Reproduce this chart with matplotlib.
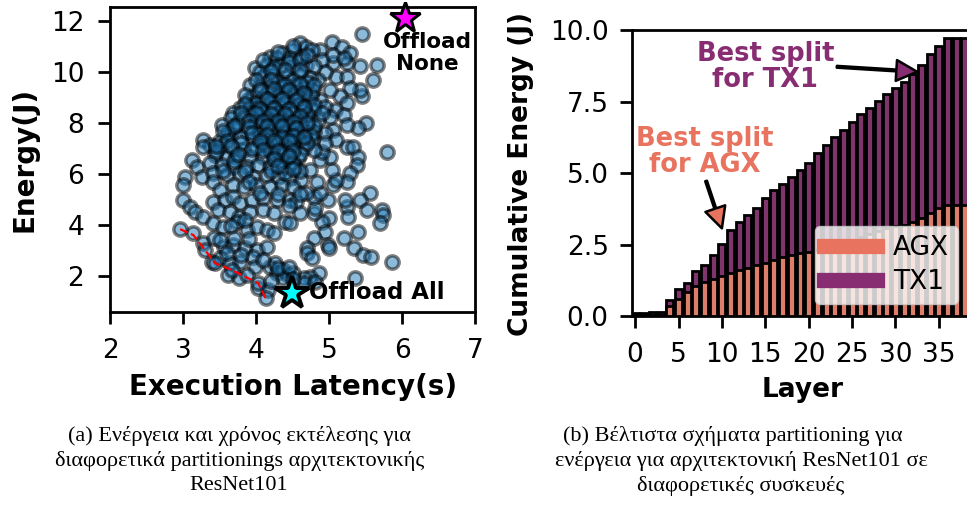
import matplotlib
matplotlib.use("Agg")
import matplotlib.pyplot as plt
from matplotlib.lines import Line2D
import numpy as np

# ---------------- data: (a) scatter of partitionings ----------------
outliers_right = [
    (5.45, 11.5), (5.65, 10.3), (5.42, 10.23), (5.60, 9.7), (5.45, 9.05), (5.42, 9.3), (5.50, 8.0), (5.40, 7.8),
    (5.79, 6.88), (5.56, 5.24), (5.42, 4.98), (5.52, 4.6), (5.72, 4.58), (5.74, 4.4), (5.70, 4.06), (5.40, 3.73),
    (5.20, 3.47), (5.34, 3.08), (5.47, 2.81), (5.58, 2.75), (5.86, 2.55), (5.36, 1.9), (5.24, 4.72), (5.22, 4.98),
    (5.26, 4.32), (4.99, 4.98), (5.00, 4.26), (4.90, 4.13), (4.95, 3.73), (4.99, 3.21), (5.00, 3.08), (4.79, 3.47),
    (4.70, 3.08), (4.70, 2.88), (4.77, 2.68), (4.86, 2.09), (4.74, 1.96), (4.65, 1.9), (4.79, 4.45), (4.81, 4.65),
    (4.79, 5.1), (4.88, 5.24), (5.06, 5.57),
]
upper_right = [
    (5.04, 11.2), (5.18, 11.0), (5.29, 10.75), (5.24, 10.36), (5.06, 10.36), (5.10, 9.83), (5.24, 9.83), (5.29, 9.37),
    (5.15, 9.05), (5.24, 8.78), (5.08, 8.52), (5.20, 8.33), (5.24, 7.93), (5.06, 7.73), (4.95, 7.6), (5.10, 7.34),
    (5.24, 7.08), (5.33, 7.08), (5.40, 6.68), (5.38, 6.36), (5.29, 6.03), (5.24, 5.7), (5.10, 5.77), (5.04, 6.16),
    (5.01, 6.68), (4.88, 6.55), (4.90, 6.88), (4.95, 7.21), (4.88, 10.88), (4.90, 10.5), (4.95, 10.03), (4.85, 9.7),
    (5.01, 9.3), (4.88, 8.9), (4.95, 8.65), (5.01, 8.26), (5.06, 10.7), (5.20, 10.55),
]
main_cluster = [
    (4.6, 11.15), (4.69, 11.0), (4.51, 10.88), (4.76, 10.88), (4.37, 10.75), (4.19, 10.62), (4.28, 10.55), (4.46, 10.55),
    (4.63, 10.62), (3.99, 10.16), (4.15, 10.3), (4.33, 10.23), (4.51, 10.23), (4.69, 10.3), (4.8, 10.23), (4.1, 9.83),
    (4.23, 9.9), (4.42, 9.83), (4.6, 9.9), (4.74, 9.77), (3.92, 9.5), (4.06, 9.44), (4.19, 9.44), (4.35, 9.5),
    (4.53, 9.5), (4.67, 9.37), (4.78, 9.3), (3.96, 9.05), (4.1, 8.98), (4.26, 9.05), (4.42, 8.98), (4.58, 9.05),
    (4.72, 8.92), (3.89, 8.92), (3.78, 8.59), (3.92, 8.59), (4.06, 8.65), (4.19, 8.59), (4.35, 8.65), (4.51, 8.59),
    (4.65, 8.52), (4.78, 8.52), (3.69, 8.39), (3.65, 8.2), (3.84, 8.2), (4.01, 8.26), (4.15, 8.2), (4.3, 8.26),
    (4.44, 8.2), (4.58, 8.13), (4.72, 8.13), (4.85, 8.13), (3.53, 7.93), (3.69, 7.8), (4.06, 7.87), (4.19, 7.8),
    (4.35, 7.8), (4.51, 7.73), (4.67, 7.67), (4.8, 7.67), (3.87, 7.67), (3.64, 7.54), (3.78, 7.47), (3.96, 7.41),
    (4.1, 7.47), (4.28, 7.41), (4.44, 7.47), (4.6, 7.34), (4.76, 7.34), (3.28, 7.34), (3.37, 7.15), (3.51, 7.08),
    (3.69, 7.01), (3.82, 6.95), (4.0, 7.01), (4.16, 7.01), (4.33, 7.01), (4.49, 7.08), (4.65, 7.01), (4.8, 6.95),
    (3.28, 7.08), (3.44, 6.75), (3.6, 6.68), (3.73, 6.68), (3.92, 6.68), (4.1, 6.68), (4.26, 6.68), (4.42, 6.62),
    (4.58, 6.62), (3.12, 6.55), (3.19, 6.29), (3.37, 6.42), (3.53, 6.36), (3.69, 6.29), (3.87, 6.29), (4.03, 6.36),
    (4.19, 6.29), (4.37, 6.29), (4.53, 6.29), (3.03, 5.9), (3.26, 5.9), (3.41, 6.03), (3.6, 5.96), (3.78, 6.03),
    (3.96, 5.9), (4.15, 5.96), (4.3, 5.9), (4.46, 5.83), (4.62, 5.77), (3.0, 5.57), (3.41, 5.67), (3.5, 5.37),
    (3.69, 5.57), (3.84, 5.5), (4.0, 5.57), (4.19, 5.5), (4.35, 5.57), (4.51, 5.5), (3.0, 4.98), (3.1, 4.72),
    (3.16, 4.52), (3.41, 4.91), (3.58, 4.98), (3.69, 5.11), (3.78, 4.85), (3.94, 4.98), (4.1, 5.04), (4.28, 4.98),
    (4.46, 4.98), (4.55, 4.91), (3.48, 4.58), (3.64, 4.52), (3.76, 4.32), (3.92, 4.52), (4.1, 4.58), (4.24, 4.45),
    (4.4, 4.13), (4.46, 4.06), (3.28, 4.32), (3.41, 4.06), (3.55, 3.93), (3.74, 4.13), (3.87, 3.8), (4.01, 3.93),
    (4.15, 3.8), (4.24, 3.67), (3.14, 3.67), (3.28, 3.27), (3.42, 3.47), (3.56, 3.14), (3.69, 3.21), (3.85, 3.08),
    (4.01, 3.01), (4.15, 3.14), (3.3, 3.01), (3.39, 2.55), (3.5, 2.68), (3.64, 2.49), (3.78, 2.55), (3.96, 2.75),
    (3.99, 2.36), (3.62, 2.03), (3.76, 1.9), (3.87, 2.03), (4.03, 1.5), (4.17, 1.43), (4.13, 1.12), (4.19, 2.36),
    (4.26, 2.49), (4.28, 2.09), (4.37, 2.22), (4.44, 2.03), (4.51, 2.09), (4.37, 1.9), (4.65, 1.7), (4.81, 1.76),
    (4.74, 6.16), (4.83, 5.7), (4.69, 5.24), (4.6, 4.45), (2.96, 3.83), (3.44, 2.49), (3.67, 2.22), (4.03, 1.7),
]
dense_core = [
    (4.05, 10.0), (4.25, 10.2), (4.45, 10.4), (4.6, 10.5), (4.3, 9.6), (4.5, 9.7), (4.7, 9.6), (4.15, 9.2),
    (4.35, 9.2), (4.55, 9.2), (4.75, 9.1), (4.0, 8.8), (4.2, 8.85), (4.4, 8.8), (4.6, 8.75), (4.8, 8.7),
    (3.95, 8.4), (4.1, 8.45), (4.3, 8.4), (4.5, 8.4), (4.7, 8.35), (4.9, 8.4), (4.0, 8.05), (4.25, 8.0),
    (4.4, 7.95), (4.6, 7.95), (4.8, 7.9), (4.05, 7.6), (4.2, 7.65), (4.4, 7.6), (4.55, 7.55), (4.75, 7.55),
    (4.1, 7.2), (4.3, 7.2), (4.5, 7.25), (4.7, 7.2), (4.2, 6.85), (4.4, 6.85), (4.6, 6.8), (4.35, 6.5),
    (4.5, 6.45), (4.2, 6.1), (4.4, 6.05), (4.6, 6.1), (3.75, 8.0), (3.6, 7.6), (3.8, 7.2), (3.95, 7.0),
    (3.5, 7.3), (3.45, 6.9), (3.7, 6.5), (3.85, 6.1), (3.55, 6.1), (3.9, 5.7), (4.05, 5.25), (4.3, 5.2),
    (4.6, 5.2), (4.45, 4.75), (3.85, 4.2), (3.65, 3.95), (3.9, 3.45), (3.7, 3.5), (3.5, 3.4), (3.6, 2.9),
    (3.8, 2.8), (4.1, 2.6), (4.3, 2.3), (4.45, 2.35), (4.5, 1.85), (4.2, 1.8),
]
dense_core_2 = [
    (4.1, 10.5), (4.3, 10.8), (4.5, 11.05), (4.7, 10.7), (4.4, 10.1), (4.2, 10.05), (4.6, 10.1), (4.0, 9.7),
    (4.2, 9.7), (4.4, 9.5), (4.6, 9.55), (4.8, 9.5), (4.05, 9.3), (4.25, 9.35), (4.45, 9.3), (4.65, 9.2),
    (3.85, 9.1), (4.15, 8.95), (4.35, 8.95), (4.55, 8.9), (3.85, 8.75), (4.05, 8.55), (4.25, 8.6), (4.45, 8.55),
    (4.65, 8.65), (3.8, 8.4), (4.0, 8.4), (4.2, 8.35), (4.4, 8.35), (4.6, 8.3), (3.9, 8.1), (4.1, 8.1),
    (4.3, 8.1), (4.5, 8.05), (4.7, 8.0), (3.9, 7.85), (4.15, 7.9), (4.35, 7.9), (4.55, 7.8), (3.95, 7.6),
    (4.15, 7.55), (4.35, 7.45), (4.5, 7.5), (4.65, 7.45), (4.05, 7.3), (4.25, 7.3), (4.45, 7.3), (4.1, 6.95),
    (4.3, 6.9), (4.5, 6.9), (4.25, 6.6), (4.45, 6.7), (4.3, 6.3), (4.5, 6.2), (3.7, 7.9), (3.55, 7.7),
    (3.6, 7.3), (3.45, 7.1), (3.65, 7.1), (3.75, 6.8),
]
pareto_latency = [2.96, 3.14, 3.30, 3.44, 3.67, 4.03, 4.13]
pareto_energy = [3.83, 3.60, 3.01, 2.49, 2.22, 1.70, 1.12]
offload_none = (6.04, 12.13)
offload_all = (4.49, 1.30)

# ---------------- data: (b) cumulative energy per layer ----------------
layers = list(range(39))
energy_tx1 = [0.12, 0.13, 0.14, 0.15, 0.58, 0.97, 1.16, 1.57, 1.80, 2.15, 2.53, 3.02, 3.28, 3.52, 3.79, 4.14,
              4.40, 4.62, 4.87, 5.10, 5.37, 5.69, 5.98, 6.25, 6.50, 6.77, 7.05, 7.26, 7.52, 7.75, 7.96, 8.19,
              8.45, 8.78, 9.15, 9.45, 9.73, 9.73, 9.73]
energy_agx = [0.05, 0.05, 0.05, 0.06, 0.36, 0.62, 0.85, 1.07, 1.20, 1.30, 1.41, 1.52, 1.63, 1.70, 1.78, 1.87,
              1.96, 2.07, 2.13, 2.20, 2.26, 2.32, 2.45, 2.52, 2.60, 2.68, 2.77, 2.87, 2.97, 3.08, 3.15, 3.20,
              3.30, 3.43, 3.60, 3.78, 3.88, 3.88, 3.88]
device_labels = ["AGX", "TX1"]

C_AGX = "#E8735F"
C_TX1 = "#882D72"
BAR_AGX = "#DC7E6A"
BAR_TX1 = "#80346C"

fig = plt.figure(figsize=(9.67, 5.05), dpi=100)

tick_kw = dict(labelsize=19, length=8.5, width=2.0, pad=10)

# ---------------- (a) ----------------
ax1 = fig.add_axes([0.1138, 0.3816, 0.3775, 0.6046])
pts = outliers_right + upper_right + main_cluster + dense_core + dense_core_2
lat = np.array([p[0] for p in pts])
en = np.array([p[1] for p in pts])
ax1.scatter(lat, en, s=92, c="#1f77b4", alpha=0.5, edgecolors="black", linewidths=2.5, zorder=2)
ax1.plot(pareto_latency, pareto_energy, color="red", ls="--", lw=1.6, zorder=3)
ax1.plot(*offload_none, marker="*", ms=23, mfc="magenta", mec="black", mew=2.2, zorder=4, clip_on=False)
ax1.plot(*offload_all, marker="*", ms=25, mfc="cyan", mec="black", mew=2.8, zorder=4, clip_on=False)
ax1.text(6.34, 10.77, "Offload\nNone", ha="center", va="center", fontsize=15.5, fontweight="bold",
         linespacing=1.1)
ax1.text(4.73, 1.32, "Offload All", ha="left", va="center", fontsize=16.5, fontweight="bold")
ax1.set_xlim(2, 7)
ax1.set_ylim(0.56, 12.57)
ax1.set_xticks([2, 3, 4, 5, 6, 7])
ax1.set_yticks([2, 4, 6, 8, 10, 12])
ax1.tick_params(**tick_kw)
for s in ax1.spines.values():
    s.set_linewidth(2.0)
ax1.set_xlabel("Execution Latency(s)", fontsize=20, fontweight="bold")
ax1.set_ylabel("Energy(J)", fontsize=20, fontweight="bold")
ax1.xaxis.set_label_coords(0.5, -0.245)
ax1.xaxis.label.set_va("center")
ax1.yaxis.set_label_coords(-0.233, 0.5)
ax1.yaxis.label.set_va("center")

# ---------------- (b) ----------------
ax2 = fig.add_axes([0.6532, 0.3737, 0.3500, 0.567])
ax2.bar(layers, energy_tx1, width=0.8, color=BAR_TX1, edgecolor="black", linewidth=2.0, zorder=2)
ax2.bar(layers, energy_agx, width=0.8, color=BAR_AGX, edgecolor="black", linewidth=2.0, zorder=3)
ax2.set_xlim(-0.4, 38.6)
ax2.set_ylim(0, 10)
ax2.set_xticks([0, 5, 10, 15, 20, 25, 30, 35])
ax2.set_yticks([0, 2.5, 5.0, 7.5, 10.0])
ax2.set_yticklabels(["0.0", "2.5", "5.0", "7.5", "10.0"])
ax2.tick_params(**tick_kw)
ax2.tick_params(axis="y", pad=8)
for s in ax2.spines.values():
    s.set_linewidth(2.0)
ax2.set_xlabel("Layer", fontsize=19, fontweight="bold")
ax2.set_ylabel("Cumulative Energy (J)", fontsize=19, fontweight="bold")
ax2.xaxis.set_label_coords(0.506, -0.257)
ax2.xaxis.label.set_va("center")
ax2.yaxis.set_label_coords(-0.326, 0.497)
ax2.yaxis.label.set_va("center")

ax2.annotate("Best split\nfor TX1", xy=(32.5, 8.54), xytext=(15.0, 8.72), ha="center", va="center",
             fontsize=18.5, fontweight="bold", color=C_TX1, linespacing=1.0, zorder=6,
             arrowprops=dict(width=1.3, headwidth=15, headlength=15, facecolor=C_TX1,
                             edgecolor="black", lw=1.8, shrink=0.0))
ax2.annotate("Best split\nfor AGX", xy=(10.0, 3.07), xytext=(8.07, 5.73), ha="center", va="center",
             fontsize=18.5, fontweight="bold", color=C_AGX, linespacing=1.0, zorder=6,
             arrowprops=dict(width=1.3, headwidth=15, headlength=15, facecolor=C_AGX,
                             edgecolor="black", lw=1.8, shrink=0.0))

handles = [Line2D([0], [0], color=C_AGX, lw=11), Line2D([0], [0], color=C_TX1, lw=11)]
leg = ax2.legend(handles, device_labels, loc="lower right", fontsize=19, handlelength=2.0,
                 framealpha=0.8, borderaxespad=0.45, borderpad=0.35, labelspacing=0.3,
                 handletextpad=0.6)
leg.set_zorder(7)

# ---------------- captions ----------------
cap_font = ["Liberation Serif", "DejaVu Serif"]
cap_a = ["(a) Ενέργεια και χρόνος εκτέλεσης για",
         "διαφορετικά partitionings αρχιτεκτονικής",
         "ResNet101"]
cap_b = ["(b) Βέλτιστα σχήματα partitioning για",
         "ενέργεια για αρχιτεκτονική ResNet101 σε",
         "διαφορετικές συσκευές"]
ys = [436, 461, 486]
xa = [239, 240, 239]
xb = [733, 741, 741]
for t, x, y in zip(cap_a, xa, ys):
    fig.text(x / 967, 1 - y / 505, t, ha="center", va="center", fontsize=16, family=cap_font)
for t, x, y in zip(cap_b, xb, ys):
    fig.text(x / 967, 1 - y / 505, t, ha="center", va="center", fontsize=16, family=cap_font)

fig.savefig("out.png", dpi=100)
